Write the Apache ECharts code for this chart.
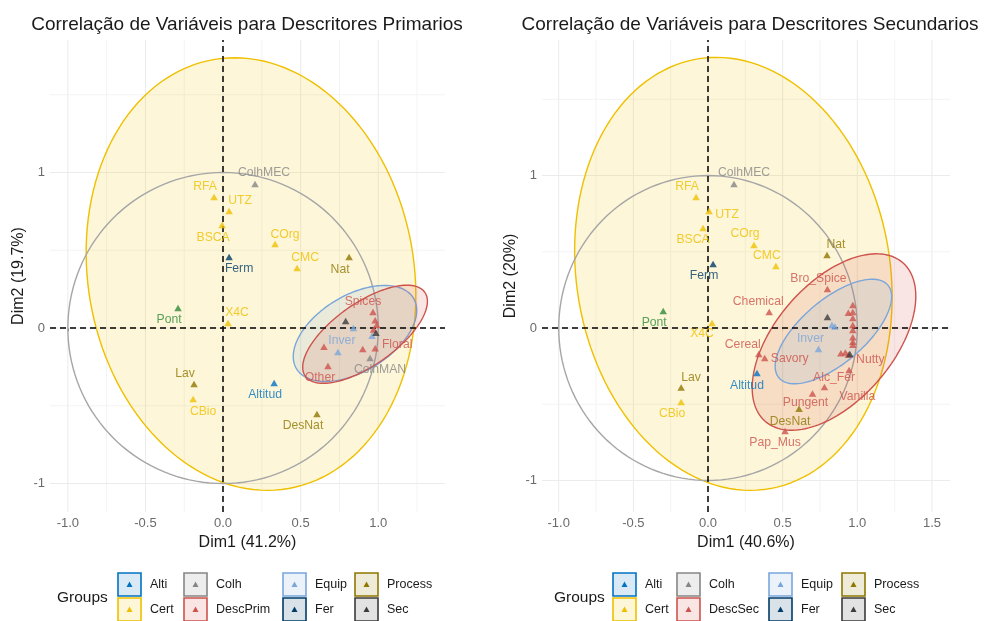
<!DOCTYPE html>
<html>
<head>
<meta charset="utf-8">
<script src="https://cdn.jsdelivr.net/npm/echarts@6/dist/echarts.min.js"></script>
<style>
html, body { margin: 0; padding: 0; background: #fff; }
#main { width: 999px; height: 621px; }
</style>
</head>
<body>
<div id="main"></div>
<script>
// grupos da legenda (ordem por coluna)
var groupsPrim = ["Alti", "Cert", "Colh", "DescPrim", "Equip", "Fer", "Process", "Sec"];
var groupsSec = ["Alti", "Cert", "Colh", "DescSec", "Equip", "Fer", "Process", "Sec"];
var groupColors = {
  Alti: "#0073C2", Cert: "#EFC000", Colh: "#868686", DescPrim: "#CD534C", DescSec: "#CD534C",
  Equip: "#7AA6DC", Fer: "#003C67", Process: "#8F7700", Sec: "#3B3B3B", Pont: "#2E8B3A"
};

// linhas de grade (valores dos eixos)
var gridMajorX = [-1, -0.5, 0, 0.5, 1, 1.5];
var gridMinorX = [-0.75, -0.25, 0.25, 0.75, 1.25];
var gridMajorY = [-1, 0, 1];
var gridMinorY = [-0.5, 0.5, 1.5];

// variaveis: [nome, grupo, Dim1, Dim2]
var varsPrim = [
  ["ColhMEC", "Colh", 0.206, 0.926],
  ["RFA", "Cert", -0.058, 0.842],
  ["UTZ", "Cert", 0.039, 0.752],
  ["BSCA", "Cert", -0.006, 0.662],
  ["Ferm", "Fer", 0.039, 0.457],
  ["COrg", "Cert", 0.335, 0.54],
  ["CMC", "Cert", 0.477, 0.386],
  ["Nat", "Process", 0.812, 0.457],
  ["Pont", "Pont", -0.29, 0.129],
  ["X4C", "Cert", 0.032, 0.032],
  ["Lav", "Process", -0.187, -0.36],
  ["CBio", "Cert", -0.193, -0.457],
  ["Altitud", "Alti", 0.329, -0.354],
  ["DesNat", "Process", 0.605, -0.553],
  ["Spices", "DescPrim", 0.966, 0.103],
  ["", "Sec", 0.79, 0.045],
  ["Inver", "Equip", 0.74, -0.154],
  ["", "Equip", 0.84, 0.0],
  ["", "Equip", 0.96, -0.05],
  ["", "DescPrim", 0.98, 0.05],
  ["", "DescPrim", 0.99, 0.02],
  ["", "DescPrim", 0.97, -0.01],
  ["", "Sec", 0.985, -0.03],
  ["", "DescPrim", 0.65, -0.12],
  ["", "DescPrim", 0.9, -0.135],
  ["Floral", "DescPrim", 0.98, -0.13],
  ["Other", "DescPrim", 0.676, -0.244],
  ["ColhMAN", "Colh", 0.947, -0.193]
];
var varsSec = [
  ["ColhMEC", "Colh", 0.174, 0.944],
  ["RFA", "Cert", -0.08, 0.86],
  ["UTZ", "Cert", 0.007, 0.767],
  ["BSCA", "Cert", -0.033, 0.656],
  ["COrg", "Cert", 0.308, 0.544],
  ["CMC", "Cert", 0.455, 0.407],
  ["Nat", "Process", 0.797, 0.479],
  ["Ferm", "Fer", 0.034, 0.42],
  ["Pont", "Pont", -0.30, 0.111],
  ["X4C", "Cert", 0.027, 0.033],
  ["Lav", "Process", -0.18, -0.39],
  ["CBio", "Cert", -0.18, -0.485],
  ["Altitud", "Alti", 0.328, -0.295],
  ["DesNat", "Process", 0.61, -0.53],
  ["Pap_Mus", "DescSec", 0.516, -0.675],
  ["Pungent", "DescSec", 0.70, -0.43],
  ["Vanilla", "DescSec", 0.78, -0.387],
  ["Alc_Fer", "DescSec", 0.945, -0.275],
  ["Nutty", "DescSec", 0.94, -0.175],
  ["Savory", "DescSec", 0.38, -0.197],
  ["Cereal", "DescSec", 0.34, -0.17],
  ["Chemical", "DescSec", 0.41, 0.105],
  ["Bro_Spice", "DescSec", 0.80, 0.256],
  ["Inver", "Equip", 0.74, -0.138],
  ["", "Sec", 0.80, 0.072],
  ["", "Equip", 0.83, 0.02],
  ["", "Equip", 0.85, 0.01],
  ["", "DescSec", 0.97, 0.15],
  ["", "DescSec", 0.94, 0.10],
  ["", "DescSec", 0.97, 0.105],
  ["", "DescSec", 0.97, 0.066],
  ["", "DescSec", 0.97, 0.02],
  ["", "DescSec", 0.97, -0.013],
  ["", "DescSec", 0.97, -0.06],
  ["", "DescSec", 0.97, -0.09],
  ["", "DescSec", 0.97, -0.11],
  ["", "DescSec", 0.89, -0.165],
  ["", "DescSec", 0.92, -0.16],
  ["", "Sec", 0.95, -0.17]
];

// elipses de confianca: [grupo, centroX, centroY, semiEixoA, semiEixoB, angulo]
var ellipsesPrim = [
  ["Cert", 0.18, 0.347, 1.40, 1.05, 100],
  ["Equip", 0.85, -0.035, 0.44, 0.245, 31],
  ["DescPrim", 0.915, -0.04, 0.47, 0.20, 35]
];
var ellipsesSec = [
  ["Cert", 0.17, 0.355, 1.43, 1.05, 100],
  ["DescSec", 0.844, -0.092, 0.695, 0.39, 48],
  ["Equip", 0.84, -0.023, 0.475, 0.21, 39.5]
];

// deslocamento dos rotulos (px)
var nudgePrim = {
  ColhMEC: [9, -11], RFA: [-9, -10], UTZ: [11, -10], BSCA: [-9, 13], Ferm: [10, 12], COrg: [10, -9],
  CMC: [8, -10], Nat: [-9, 13], Pont: [-9, 12], X4C: [9, -10], Lav: [-9, -10], CBio: [10, 13],
  Altitud: [-9, 12], DesNat: [-14, 12], Spices: [-10, -10], Inver: [4, -11], Other: [-8, 12],
  Floral: [22, -4], ColhMAN: [10, 12]
};
var nudgeSec = {
  ColhMEC: [10, -11], RFA: [-9, -10], UTZ: [18, 4], BSCA: [-10, 12], COrg: [-9, -11], CMC: [-9, -10],
  Nat: [9, -10], Ferm: [-9, 12], Pont: [-9, 12], X4C: [-10, 11], Lav: [10, -10], CBio: [-9, 12],
  Altitud: [-10, 13], DesNat: [-9, 13], Pap_Mus: [-10, 12], Pungent: [-7, 9], Vanilla: [33, 10],
  Alc_Fer: [-15, 8], Nutty: [22, 5], Savory: [25, 1], Cereal: [-16, -9], Chemical: [-11, -10],
  "Bro_Spice": [-9, -10], Inver: [-8, -10]
};

var FONT = "Liberation Sans, Arial, sans-serif";

function rgba(hex, a) {
  var n = parseInt(hex.slice(1), 16);
  return "rgba(" + (n >> 16) + "," + ((n >> 8) & 255) + "," + (n & 255) + "," + a + ")";
}

function ellipseRender(fill, stroke) {
  return function (params, api) {
    var cx = api.value(0), cy = api.value(1), a = api.value(2), b = api.value(3);
    var ang = api.value(4) * Math.PI / 180;
    var pts = [];
    for (var i = 0; i < 144; i++) {
      var t = i / 144 * 2 * Math.PI;
      var ex = a * Math.cos(t), ey = b * Math.sin(t);
      pts.push(api.coord([cx + ex * Math.cos(ang) - ey * Math.sin(ang),
                          cy + ex * Math.sin(ang) + ey * Math.cos(ang)]));
    }
    return { type: "polygon", shape: { points: pts }, style: { fill: fill, stroke: stroke, lineWidth: 1.4 } };
  };
}

// grade do painel (sem linhas nas bordas, como no ggplot)
function gridRender(params, api) {
  var cs = params.coordSys;
  var v = api.value(0), dir = api.value(1), minor = api.value(2);
  var color = minor ? "#F3F3F3" : "#EBEBEB";
  if (dir === 0) {
    var px = api.coord([v, 0])[0];
    if (px < cs.x - 0.5 || px > cs.x + cs.width + 0.5) return;
    return { type: "line", shape: { x1: px, y1: cs.y, x2: px, y2: cs.y + cs.height },
             style: { stroke: color, lineWidth: 1 } };
  }
  var py = api.coord([0, v])[1];
  if (py < cs.y - 0.5 || py > cs.y + cs.height + 0.5) return;
  return { type: "line", shape: { x1: cs.x, y1: py, x2: cs.x + cs.width, y2: py },
           style: { stroke: color, lineWidth: 1 } };
}

function gridData() {
  var d = [];
  gridMinorX.forEach(function (v) { d.push([v, 0, 1]); });
  gridMinorY.forEach(function (v) { d.push([v, 1, 1]); });
  gridMajorX.forEach(function (v) { d.push([v, 0, 0]); });
  gridMajorY.forEach(function (v) { d.push([v, 1, 0]); });
  return d;
}

function panelSeries(idx, vars, ells, nudge) {
  var s = [{
    type: "custom", xAxisIndex: idx, yAxisIndex: idx, silent: true, z: 1,
    renderItem: gridRender, data: gridData()
  }];
  ells.forEach(function (e, k) {
    var c = groupColors[e[0]];
    s.push({
      type: "custom", xAxisIndex: idx, yAxisIndex: idx, silent: true,
      renderItem: ellipseRender(rgba(c, 0.15), c),
      encode: { x: 0, y: 1 },
      data: [e.slice(1)]
    });
    if (k === 0) {
      // circulo de correlacao
      s.push({
        type: "custom", xAxisIndex: idx, yAxisIndex: idx, silent: true,
        renderItem: ellipseRender("none", "#A6A6A6"),
        encode: { x: 0, y: 1 },
        data: [[0, 0, 1, 1, 0]],
        markLine: {
          symbol: "none", silent: true, label: { show: false },
          lineStyle: { color: "#000", type: [6, 4], width: 1.5 },
          data: [{ xAxis: 0 }, { yAxis: 0 }]
        }
      });
    }
  });
  s.push({
    type: "scatter", xAxisIndex: idx, yAxisIndex: idx, symbol: "triangle", symbolSize: [7.5, 6.5],
    z: 5,
    data: vars.map(function (v) {
      var c = groupColors[v[1]];
      return {
        name: v[0], value: [v[2], v[3]],
        itemStyle: { color: c },
        label: {
          show: v[0] !== "", position: "inside", formatter: v[0], color: c,
          fontSize: 12.2, fontFamily: FONT, offset: nudge[v[0]] || [0, 0]
        }
      };
    })
  });
  return s;
}

function xAxisFor(idx, min, max, name) {
  return {
    type: "value", gridIndex: idx, min: min, max: max, splitNumber: 5,
    name: name, nameLocation: "middle", nameGap: 20,
    nameTextStyle: { color: "#1a1a1a", fontSize: 16, fontFamily: FONT },
    axisLine: { show: false },
    axisTick: { show: true, length: 3, lineStyle: { color: "#333", width: 1 } },
    axisLabel: {
      color: "#6b6b6b", fontSize: 13, fontFamily: FONT, margin: 5,
      showMinLabel: false, showMaxLabel: false,
      formatter: function (v) { return Math.abs(v * 2 - Math.round(v * 2)) < 1e-6 ? v.toFixed(1) : ""; }
    },
    splitLine: { show: false },
    minorSplitLine: { show: false }
  };
}

function yAxisFor(idx, min, max, name) {
  return {
    type: "value", gridIndex: idx, min: min, max: max, splitNumber: 3,
    name: name, nameLocation: "middle", nameGap: 23, nameRotate: 90,
    nameTextStyle: { color: "#1a1a1a", fontSize: 16, fontFamily: FONT },
    axisLine: { show: false },
    axisTick: { show: true, length: 3, lineStyle: { color: "#333", width: 1 } },
    axisLabel: {
      color: "#6b6b6b", fontSize: 13, fontFamily: FONT, margin: 5,
      showMinLabel: false, showMaxLabel: false,
      formatter: function (v) { return Math.abs(v - Math.round(v)) < 1e-6 ? String(Math.round(v)) : ""; }
    },
    splitLine: { show: false },
    minorSplitLine: { show: false }
  };
}

// legenda desenhada como na figura original (2 linhas x 4 colunas)
function legendGraphics(groups, titleX, colX) {
  var g = [{
    type: "text", left: titleX, top: 590,
    style: { text: "Groups", fill: "#1a1a1a", fontSize: 15.5, fontFamily: FONT }
  }];
  groups.forEach(function (name, i) {
    var col = Math.floor(i / 2), row = i % 2;
    var x = colX[col], y = 573 + row * 25;
    var c = groupColors[name];
    g.push({
      type: "rect", shape: { x: x, y: y, width: 23, height: 23 },
      style: { fill: rgba(c, 0.15), stroke: c, lineWidth: 1.6 }
    });
    g.push({
      type: "polygon", shape: { points: [[x + 11.5, y + 8.5], [x + 14.5, y + 14], [x + 8.5, y + 14]] },
      style: { fill: c }
    });
    g.push({
      type: "text", x: x + 32, y: y + 12,
      style: { text: name, fill: "#1a1a1a", fontSize: 12.5, fontFamily: FONT, verticalAlign: "middle" }
    });
  });
  return g;
}

var chart = echarts.init(document.getElementById("main"));
chart.setOption({
  animation: false,
  backgroundColor: "#fff",
  title: [
    { text: "Correlação de Variáveis para Descritores Primarios", left: 242, top: 10, textAlign: "center",
      textStyle: { fontSize: 19, fontWeight: "normal", color: "#1a1a1a", fontFamily: FONT } },
    { text: "Correlação de Variáveis para Descritores Secundarios", left: 745, top: 10, textAlign: "center",
      textStyle: { fontSize: 19, fontWeight: "normal", color: "#1a1a1a", fontFamily: FONT } }
  ],
  grid: [
    { left: 50, right: 554, top: 40, bottom: 109 },
    { left: 542, right: 49, top: 40, bottom: 109 }
  ],
  xAxis: [
    xAxisFor(0, -1.115, 1.43, "Dim1 (41.2%)"),
    xAxisFor(1, -1.112, 1.621, "Dim1 (40.6%)")
  ],
  yAxis: [
    yAxisFor(0, -1.183, 1.852, "Dim2 (19.7%)"),
    yAxisFor(1, -1.207, 1.889, "Dim2 (20%)")
  ],
  graphic: legendGraphics(groupsPrim, 57, [118, 184, 283, 355])
    .concat(legendGraphics(groupsSec, 554, [613, 677, 769, 842])),
  series: panelSeries(0, varsPrim, ellipsesPrim, nudgePrim)
    .concat(panelSeries(1, varsSec, ellipsesSec, nudgeSec))
});
</script>
</body>
</html>
